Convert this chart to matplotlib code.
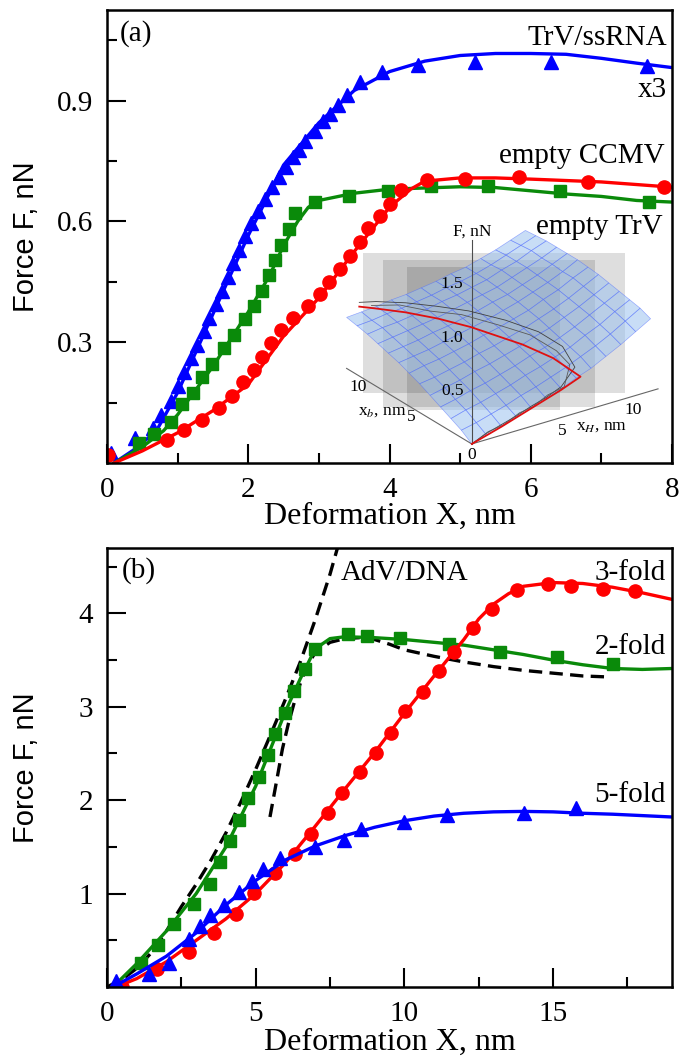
import numpy as np
import matplotlib
matplotlib.use("Agg")
import matplotlib.pyplot as plt
from matplotlib.patches import Rectangle

SERIF = "Liberation Serif"
SANS = "Liberation Sans"
plt.rcParams['font.family'] = [SERIF, 'DejaVu Serif']
plt.rcParams['mathtext.fontset'] = 'stix'

BLUE = '#0000ff'
RED = '#ff0000'
GREEN = '#0a8a0a'

# ---------------- panel (a) ----------------
# TrV/ssRNA (x3) : triangles
a_tri_x = [0.05, 0.40, 0.65, 0.77, 0.90, 1.00, 1.09, 1.19, 1.28, 1.37, 1.45, 1.54,
           1.63, 1.71, 1.79, 1.87, 1.95, 2.04, 2.14, 2.24, 2.34, 2.44, 2.54, 2.63,
           2.72, 2.81, 2.94, 3.06, 3.16, 3.27, 3.40, 3.58, 3.89, 4.41, 5.21, 6.29, 7.64]
a_tri_y = [0.025, 0.062, 0.087, 0.120, 0.154, 0.192, 0.226, 0.260, 0.293, 0.327, 0.361, 0.394,
           0.428, 0.462, 0.496, 0.530, 0.563, 0.597, 0.626, 0.656, 0.685, 0.711, 0.736, 0.761,
           0.778, 0.799, 0.824, 0.850, 0.867, 0.890, 0.913, 0.947, 0.972, 0.989, 0.997, 0.997, 0.986]
a_tri_fit_x = [0.1, 0.4, 0.7, 1.0, 1.5, 2.0, 2.5, 3.0, 3.5, 4.0, 4.5, 5.0, 5.5, 6.0, 6.5, 7.0, 7.5, 8.0]
a_tri_fit_y = [0.0, 0.035, 0.08, 0.175, 0.37, 0.565, 0.74, 0.845, 0.925, 0.972, 0.998, 1.012,
               1.017, 1.017, 1.015, 1.005, 0.993, 0.982]

# empty TrV : squares
a_sq_x = [0.45, 0.66, 0.90, 1.06, 1.22, 1.34, 1.49, 1.65, 1.80, 1.95, 2.08, 2.20, 2.29, 2.38,
          2.47, 2.57, 2.66, 2.95, 3.43, 3.98, 4.59, 5.39, 6.42, 7.67]
a_sq_y = [0.049, 0.072, 0.101, 0.146, 0.175, 0.213, 0.247, 0.285, 0.319, 0.357, 0.390, 0.428,
          0.466, 0.504, 0.542, 0.580, 0.622, 0.647, 0.664, 0.675, 0.688, 0.688, 0.675, 0.647]
a_sq_fit_x = [0.1, 0.5, 0.8, 1.0, 1.5, 2.0, 2.3, 2.5, 2.7, 2.85, 3.0, 3.5, 4.0, 5.0, 5.5, 6.0,
              6.5, 7.0, 7.5, 8.0]
a_sq_fit_y = [0.0, 0.04, 0.08, 0.12, 0.24, 0.375, 0.465, 0.54, 0.60, 0.635, 0.652, 0.670, 0.680,
              0.686, 0.684, 0.676, 0.668, 0.662, 0.652, 0.648]

# empty CCMV : circles
a_ci_x = [0.02, 0.85, 1.09, 1.34, 1.58, 1.77, 1.92, 2.08, 2.20, 2.32, 2.47, 2.63, 2.84, 3.01,
          3.15, 3.30, 3.44, 3.58, 3.70, 3.86, 4.00, 4.16, 4.53, 5.07, 5.84, 6.81, 7.88]
a_ci_y = [0.019, 0.057, 0.083, 0.108, 0.137, 0.167, 0.200, 0.230, 0.264, 0.298, 0.331, 0.361,
          0.390, 0.420, 0.449, 0.483, 0.513, 0.550, 0.584, 0.614, 0.643, 0.677, 0.702, 0.706,
          0.711, 0.698, 0.685]
a_ci_fit_x = [0.1, 0.5, 1.0, 1.5, 2.0, 2.5, 3.0, 3.5, 4.0, 4.3, 4.5, 5.0, 5.5, 6.0, 7.0, 8.0]
a_ci_fit_y = [0.0, 0.03, 0.075, 0.13, 0.195, 0.315, 0.41, 0.525, 0.635, 0.68, 0.70, 0.708,
              0.708, 0.705, 0.698, 0.685]

# ---------------- panel (b) ----------------
b_sq_x = [1.13, 1.71, 2.26, 2.91, 3.48, 3.81, 4.14, 4.43, 4.75, 5.12, 5.41, 5.65, 5.99, 6.28,
          6.67, 7.00, 8.09, 8.74, 9.86, 11.49, 13.23, 15.12, 17.00]
b_sq_y = [0.257, 0.455, 0.675, 0.888, 1.108, 1.336, 1.56, 1.787, 2.026, 2.253, 2.48, 2.71,
          2.936, 3.17, 3.40, 3.62, 3.78, 3.76, 3.74, 3.67, 3.59, 3.53, 3.46]
b_sq_fit_x = [0.2, 1, 2, 3, 4, 5, 6, 6.5, 7, 7.5, 8, 9, 10, 11, 12, 13, 14, 15, 16, 17, 18, 19]
b_sq_fit_y = [0.0, 0.25, 0.6, 1.0, 1.5, 2.15, 2.95, 3.3, 3.62, 3.73, 3.75, 3.74, 3.72, 3.69,
              3.66, 3.61, 3.56, 3.50, 3.45, 3.41, 3.40, 3.41]

b_ci_x = [0.51, 1.67, 2.75, 3.59, 4.35, 4.94, 5.65, 6.32, 6.86, 7.43, 7.90, 8.52, 9.03, 9.54,
          10.01, 10.62, 11.17, 11.67, 12.32, 12.94, 13.78, 14.83, 15.62, 16.67, 17.77]
b_ci_y = [0.0, 0.19, 0.374, 0.583, 0.785, 1.005, 1.218, 1.42, 1.64, 1.86, 2.08, 2.30, 2.51,
          2.72, 2.95, 3.16, 3.38, 3.59, 3.84, 4.05, 4.25, 4.31, 4.29, 4.26, 4.24]
b_ci_fit_x = [0.3, 1, 2, 3, 4, 5, 6, 7, 8, 9, 10, 11, 12, 12.5, 13, 13.5, 14, 15, 16, 17, 18, 19]
b_ci_fit_y = [0.0, 0.09, 0.27, 0.50, 0.73, 1.0, 1.33, 1.72, 2.12, 2.51, 2.93, 3.33, 3.72, 3.94,
              4.10, 4.21, 4.29, 4.33, 4.32, 4.28, 4.22, 4.15]

b_tri_x = [0.30, 1.42, 2.07, 2.75, 3.12, 3.45, 3.93, 4.43, 4.86, 5.26, 5.81, 7.00, 7.97, 8.55,
           10.00, 11.45, 14.03, 15.77]
b_tri_y = [0.06, 0.136, 0.253, 0.514, 0.65, 0.77, 0.88, 1.017, 1.138, 1.262, 1.383, 1.494,
           1.578, 1.695, 1.769, 1.842, 1.86, 1.916]
b_tri_fit_x = [0.2, 1, 2, 3, 4, 5, 6, 7, 8, 9, 10, 11, 12, 13, 14, 15, 16, 17, 18, 19]
b_tri_fit_y = [0.0, 0.14, 0.33, 0.58, 0.88, 1.14, 1.36, 1.51, 1.62, 1.71, 1.78, 1.83, 1.86,
               1.875, 1.88, 1.875, 1.86, 1.85, 1.835, 1.82]

# AdV/DNA dashed curves
adv1_x = [0, 0.5, 1, 1.5, 2, 2.5, 3, 3.5, 4, 4.5, 5, 5.5, 6, 6.5, 7, 7.5, 7.75]
adv1_y = [0, 0.08, 0.2, 0.37, 0.6, 0.86, 1.1, 1.36, 1.65, 1.98, 2.33, 2.7, 3.08, 3.48, 3.93,
          4.42, 4.70]
adv2_x = [5.48, 5.7, 5.9, 6.1, 6.3, 6.5, 6.7, 7.0, 7.5, 8.0, 8.5, 9.0, 9.5, 10, 11, 12, 13, 14,
          15, 16, 16.8]
adv2_y = [1.82, 2.2, 2.55, 2.82, 3.05, 3.25, 3.42, 3.58, 3.69, 3.73, 3.74, 3.72, 3.67, 3.61,
          3.54, 3.48, 3.43, 3.39, 3.36, 3.33, 3.32]

# ---------------- inset surface (rows: xH = 0..12, cols: xb = 0..12) ----------------
grid_xh = list(range(13))
grid_xb = list(range(13))
surf_F = [
    [.00, .07, .12, .17, .22, .27, .31, .35, .38, .41, .44, .46, .48],
    [.04, .10, .16, .20, .25, .29, .34, .37, .40, .43, .46, .47, .49],
    [.08, .14, .19, .24, .28, .32, .36, .39, .42, .45, .47, .49, .50],
    [.13, .18, .23, .27, .32, .35, .39, .42, .45, .47, .49, .50, .52],
    [.17, .23, .27, .31, .35, .39, .42, .45, .47, .49, .51, .52, .53],
    [.22, .27, .32, .35, .39, .42, .46, .48, .50, .52, .54, .54, .55],
    [.27, .32, .36, .40, .43, .46, .49, .51, .53, .55, .56, .57, .57],
    [.33, .37, .41, .44, .48, .50, .53, .55, .57, .58, .59, .59, .60],
    [.38, .43, .46, .49, .52, .55, .57, .59, .60, .61, .62, .62, .62],
    [.45, .49, .53, .55, .58, .60, .63, .64, .65, .66, .67, .66, .66],
    [.52, .56, .59, .62, .64, .66, .68, .69, .70, .71, .71, .71, .70],
    [.60, .64, .67, .69, .71, .73, .75, .75, .76, .76, .77, .76, .75],
    [.68, .72, .74, .76, .78, .80, .81, .82, .82, .82, .82, .81, .80]]
red_xh = [0, 2, 4, 6, 7.3, 6.5, 5.5, 4.0, 3.0, 2.0, 1.0, 0.5]
red_xb = [0, 0, 0, 0, 0, 1.5, 3.0, 5.8, 7.5, 9.2, 10.7, 11.5]
red_F = [0, 0.08, 0.17, 0.26, 0.33, 0.45, 0.53, 0.59, 0.61, 0.61, 0.60, 0.59]
blk1_xh = [0, 1, 2, 3, 4, 5, 6, 7.2, 7.0, 6.3, 5.2, 4.0, 3.0, 2.0, 1.0, 0.5]
blk1_xb = [0, 0, 0, 0, 0, 0, 0, 0.4, 1.3, 2.6, 4.2, 6.0, 7.6, 9.2, 10.6, 11.5]
blk1_F = [0, 0.06, 0.10, 0.14, 0.19, 0.23, 0.29, 0.40, 0.55, 0.64, 0.70, 0.73, 0.72, 0.70,
          0.67, 0.63]
blk2_xh = [0, 1.1, 2.1, 3.2, 4.1, 5.1, 6.2, 7.0, 6.8, 6.0, 5.0, 3.8, 2.8, 1.8, 0.9]
blk2_xb = [0, 0, 0, 0, 0, 0, 0, 0.6, 1.6, 3.0, 4.6, 6.4, 8.0, 9.5, 10.9]
blk2_F = [0, 0.07, 0.09, 0.16, 0.18, 0.25, 0.28, 0.42, 0.50, 0.60, 0.64, 0.68, 0.66, 0.67,
          0.62]

# ================= figure =================
fig = plt.figure(figsize=(6.81, 10.57), dpi=100)
axa = fig.add_axes([107/681, 1-463/1057, 565/681, 453/1057])
axb = fig.add_axes([107/681, 1-987/1057, 565/681, 439/1057])

LW = 2.4
axa.plot(a_tri_fit_x, a_tri_fit_y, color=BLUE, lw=LW)
axa.plot(a_tri_x, a_tri_y, '^', color=BLUE, ms=10, mec=BLUE)
axa.plot(a_sq_fit_x, a_sq_fit_y, color=GREEN, lw=LW)
axa.plot(a_sq_x, a_sq_y, 's', color=GREEN, ms=8, mec=GREEN)
axa.plot(a_ci_fit_x, a_ci_fit_y, color=RED, lw=LW)
axa.plot(a_ci_x, a_ci_y, 'o', color=RED, ms=9.5, mec=RED)

axb.plot(adv1_x, adv1_y, color='k', lw=LW, dashes=(4, 2.2))
axb.plot(adv2_x, adv2_y, color='k', lw=LW, dashes=(4, 2.2))
axb.plot(b_sq_fit_x, b_sq_fit_y, color=GREEN, lw=LW)
axb.plot(b_sq_x, b_sq_y, 's', color=GREEN, ms=8, mec=GREEN)
axb.plot(b_ci_fit_x, b_ci_fit_y, color=RED, lw=LW)
axb.plot(b_ci_x, b_ci_y, 'o', color=RED, ms=9.5, mec=RED)
axb.plot(b_tri_fit_x, b_tri_fit_y, color=BLUE, lw=LW)
axb.plot(b_tri_x, b_tri_y, '^', color=BLUE, ms=9.5, mec=BLUE)

for ax in (axa, axb):
    for s in ax.spines.values():
        s.set_linewidth(1.8)
    ax.tick_params(which='both', direction='in', top=False, right=False, width=1.5,
                   labelsize=21, pad=10)
    ax.tick_params(which='major', length=14)
    ax.tick_params(which='minor', length=7)
    for lab in ax.get_xticklabels() + ax.get_yticklabels():
        lab.set_family(SERIF)
    ax.set_xlabel("Deformation X, nm", fontsize=23, family=SERIF)
    ax.set_ylabel("Force F, nN", fontsize=21, family=SANS)

axa.set_xlim(0, 8)
axa.set_ylim(0, 1.125)
axa.set_xticks([0, 2, 4, 6, 8])
axa.set_xticks([1, 3, 5, 7], minor=True)
axa.set_yticks([0.3, 0.6, 0.9])
axa.set_yticks([0.15, 0.45, 0.75, 1.05], minor=True)
axa.xaxis.set_label_coords(0.5, -0.085)
axa.yaxis.set_label_coords(-0.118, 0.5)

axb.set_xlim(0, 19)
axb.set_ylim(0, 4.7)
axb.set_xticks([0, 5, 10, 15])
axb.set_xticks([2.5, 7.5, 12.5, 17.5], minor=True)
axb.set_yticks([1, 2, 3, 4])
axb.set_yticks([0.5, 1.5, 2.5, 3.5, 4.5], minor=True)
axb.xaxis.set_label_coords(0.5, -0.092)
axb.yaxis.set_label_coords(-0.118, 0.5)

TS = 21
axa.text(0.18, 1.066, "(a)", fontsize=TS, va='center', ha='left')
axa.text(7.93, 1.056, "TrV/ssRNA", fontsize=TS, va='center', ha='right')
axa.text(7.93, 0.927, "x3", fontsize=TS, va='center', ha='right')
axa.text(7.90, 0.763, "empty CCMV", fontsize=TS, va='center', ha='right')
axa.text(7.87, 0.587, "empty TrV", fontsize=TS, va='center', ha='right')

axb.text(0.5, 4.46, "(b)", fontsize=TS, va='center', ha='left')
axb.text(7.87, 4.43, "AdV/DNA", fontsize=TS, va='center', ha='left')
axb.text(18.8, 4.43, "3-fold", fontsize=TS, va='center', ha='right')
axb.text(18.8, 3.64, "2-fold", fontsize=TS, va='center', ha='right')
axb.text(18.8, 2.06, "5-fold", fontsize=TS, va='center', ha='right')

# ---------------- inset ----------------
for (x0, y0, x1, y1) in [(363, 253, 625, 393), (383, 260, 595, 407), (407, 267, 560, 410)]:
    fig.patches.append(Rectangle((x0/681, 1-y1/1057), (x1-x0)/681, (y1-y0)/1057,
                                 transform=fig.transFigure, facecolor='k', alpha=0.13,
                                 edgecolor='none', zorder=1))

ax3 = fig.add_axes([324/681, 1-448/1057, 340/681, 340/1057], projection='3d',
                   computed_zorder=False)
ax3.set_zorder(3)
ax3.patch.set_alpha(0)
ax3.set_proj_type('ortho')
ax3.view_init(elev=25, azim=-125)
ax3.set_xlim(0, 12)
ax3.set_ylim(0, 12)
ax3.set_zlim(0, 2)
ax3.set_box_aspect((1, 1, 1.075), zoom=1.107)
ax3.set_axis_off()

XH, XB = np.meshgrid(grid_xh, grid_xb, indexing='ij')
ax3.plot_surface(XH, XB, np.array(surf_F), rstride=1, cstride=1, color='#9cc2f0',
                 alpha=0.55, edgecolor='#4a66ff', linewidth=0.45, shade=False, zorder=1)
ax3.plot([0, 0], [0, 12], [0, 0], color='0.4', lw=0.8, zorder=2)
ax3.plot([0, 12.5], [0, 0], [0, 0], color='0.4', lw=0.8, zorder=2)
ax3.plot([0, 0], [0, 0], [0, 1.92], color='0.3', lw=0.8, zorder=2)
ax3.plot(blk1_xh, blk1_xb, blk1_F, color='0.25', lw=0.6, zorder=3)
ax3.plot(blk2_xh, blk2_xb, blk2_F, color='0.35', lw=0.6, zorder=3)
ax3.plot(red_xh, red_xb, red_F, color='#e01010', lw=1.3, zorder=4)

IS = 12.5
for z in [0.5, 1.0, 1.5]:
    ax3.text(0, 0, z, "%.1f  " % z, fontsize=IS, ha='right', va='center', zorder=5)
ax3.text(0, 0, 2.0, "F, nN", fontsize=IS, ha='center', va='center', zorder=5)
ax3.text(0, 0, -0.1, "0", fontsize=IS, ha='center', va='center', zorder=5)
ax3.text(-1.5, 8.8, 0.08, "10", fontsize=IS, ha='center', va='center', zorder=5)
ax3.text(-1.5, 3.7, 0.1, "5", fontsize=IS, ha='center', va='center', zorder=5)
ax3.text(5.0, -1.5, 0.0, "5", fontsize=IS, ha='center', va='center', zorder=5)
ax3.text(9.8, -1.5, 0.0, "10", fontsize=IS, ha='center', va='center', zorder=5)
ax3.text(-3.0, 4.3, 0.18, r"x$_b$, nm", fontsize=IS, ha='center', va='center', rotation=-32,
         zorder=5)
ax3.text(6.6, -3.0, 0.07, r"x$_H$, nm", fontsize=IS, ha='center', va='center', rotation=19,
         zorder=5)

fig.savefig("out.png", dpi=100)
